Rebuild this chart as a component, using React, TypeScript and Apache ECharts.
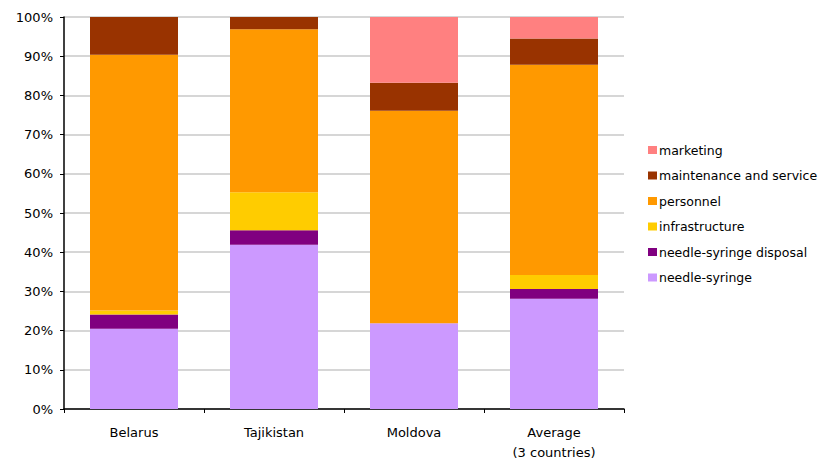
import React, { useEffect, useRef } from "react";
import * as echarts from "echarts";

// Cost structure shares (%) per country, stacked from the bottom up
const categories = ["Belarus", "Tajikistan", "Moldova", "Average\n(3 countries)"];
const needleSyringe = [20.5, 41.9, 21.9, 28.1];
const needleSyringeDisposal = [3.6, 3.7, 0, 2.5];
const infrastructure = [1.0, 9.7, 0, 3.6];
const personnel = [65.3, 41.6, 54.2, 53.6];
const maintenanceService = [9.6, 3.1, 7.1, 6.7];
const marketing = [0, 0, 16.8, 5.5];

const yTicks = [0, 10, 20, 30, 40, 50, 60, 70, 80, 90, 100];

const FONT = "DejaVu Sans, Verdana, sans-serif";

const seriesDefs = [
  { name: "needle-syringe", data: needleSyringe, color: "#CC99FF" },
  { name: "needle-syringe disposal", data: needleSyringeDisposal, color: "#800080" },
  { name: "infrastructure", data: infrastructure, color: "#FFCC00" },
  { name: "personnel", data: personnel, color: "#FF9900" },
  { name: "maintenance and service", data: maintenanceService, color: "#993300" },
  { name: "marketing", data: marketing, color: "#FF8080" },
];

export default function App() {
  const ref = useRef<HTMLDivElement>(null);

  useEffect(() => {
    if (!ref.current) return;
    const chart = echarts.init(ref.current, undefined, { renderer: "svg" });
    chart.setOption({
      animation: false,
      backgroundColor: "#ffffff",
      textStyle: { fontFamily: FONT },
      grid: {
        left: 56,
        top: 9,
        width: 560,
        height: 392,
        containLabel: false,
        outerBoundsMode: "none",
      },
      legend: {
        orient: "vertical",
        left: 635,
        top: 130,
        itemWidth: 9,
        itemHeight: 8,
        itemGap: 11.5,
        icon: "rect",
        data: seriesDefs.map((s) => s.name).reverse(),
        textStyle: { fontFamily: FONT, fontSize: 12.5, color: "#000", lineHeight: 14, padding: [0, 0, 0, -3] },
      },
      xAxis: {
        type: "category",
        data: categories,
        axisLine: { lineStyle: { color: "#000", width: 1.5 } },
        axisTick: { show: true, alignWithLabel: false, length: 4, lineStyle: { color: "#000" } },
        axisLabel: { fontFamily: FONT, fontSize: 13, color: "#000", margin: 13, lineHeight: 20 },
      },
      yAxis: {
        type: "value",
        min: yTicks[0],
        max: yTicks[yTicks.length - 1],
        interval: 10,
        axisLine: { show: true, lineStyle: { color: "#000", width: 1.5 } },
        axisTick: { show: true, length: 4, lineStyle: { color: "#000" } },
        axisLabel: { fontFamily: FONT, fontSize: 13, color: "#000", margin: 11, formatter: "{value}%" },
        splitLine: { show: true, lineStyle: { color: "#c8c8c8", width: 1.5 } },
      },
      series: seriesDefs.map((s) => ({
        name: s.name,
        type: "bar",
        stack: "total",
        barWidth: 88,
        data: s.data,
        itemStyle: { color: s.color },
      })),
    });
    return () => chart.dispose();
  }, []);

  return <div ref={ref} style={{ width: 818, height: 453 }} />;
}
